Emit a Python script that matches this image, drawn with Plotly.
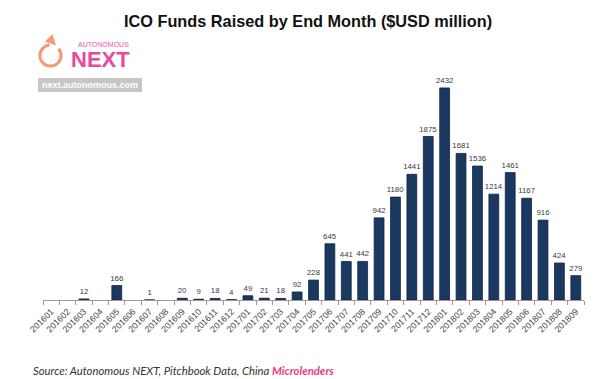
import math
import plotly.graph_objects as go

months = ["201601", "201602", "201603", "201604", "201605", "201606", "201607", "201608",
          "201609", "201610", "201611", "201612", "201701", "201702", "201703", "201704",
          "201705", "201706", "201707", "201708", "201709", "201710", "201711", "201712",
          "201801", "201802", "201803", "201804", "201805", "201806", "201807", "201808",
          "201809"]
funds = [None, None, 12, None, 166, None, 1, None,
         20, 9, 18, 4, 49, 21, 18, 92,
         228, 645, 441, 442, 942, 1180, 1441, 1875,
         2432, 1681, 1536, 1214, 1461, 1167, 916, 424,
         279]
labels = ["" if v is None else str(v) for v in funds]

W, H = 600, 379
L, R, T, B = 43, 16, 80, 79
PW, PH = W - L - R, H - T - B


def px(x):
    return (x - L) / PW


def py(y):
    return (H - B - y) / PH


fig = go.Figure(go.Bar(
    x=months, y=funds, text=labels, textposition="outside", cliponaxis=False,
    constraintext="none",
    textfont=dict(family="Arial, Liberation Sans", size=7.8, color="#3a3a3a"),
    marker=dict(color="#1b3860", line=dict(color="#0e2342", width=0.8)),
    width=0.6, hoverinfo="x+y",
))

shapes = []
# logo arc (decoration)
cx, cy, r = 50.5, 55.5, 10.5
pts = []
for i in range(0, 61):
    a = math.radians(95 + i * (305 / 60))
    pts.append((cx + r * math.cos(a), cy - r * math.sin(a)))
path = "M " + " L ".join(f"{px(x):.5f},{py(y):.5f}" for x, y in pts)
shapes.append(dict(type="path", xref="paper", yref="paper", path=path,
                   line=dict(color="#f39a78", width=3.2)))
tri = [(45.0, 41.5), (52.5, 34.0), (56.0, 45.5)]
shapes.append(dict(type="path", xref="paper", yref="paper",
                   path="M " + " L ".join(f"{px(x):.5f},{py(y):.5f}" for x, y in tri) + " Z",
                   fillcolor="#f39a78", line=dict(width=0)))
shapes.append(dict(type="rect", xref="paper", yref="paper",
                   x0=px(38), x1=px(142), y0=py(92), y1=py(78),
                   fillcolor="#c6c6c6", line=dict(width=0)))

annotations = [
    dict(text="<b>ICO Funds Raised by End Month ($USD million)</b>", x=px(307.5), y=py(21),
         xref="paper", yref="paper", showarrow=False, xanchor="center", yanchor="middle",
         font=dict(family="Arial, Liberation Sans", size=16.3, color="#111111")),
    dict(text="AUTONOMOUS", x=px(103.5), y=py(44.5), xref="paper", yref="paper",
         showarrow=False, xanchor="center", yanchor="middle",
         font=dict(family="Liberation Sans Narrow, Arial", size=7, color="#e8559f")),
    dict(text="<b>NEXT</b>", x=px(100.5), y=py(59), xref="paper", yref="paper",
         showarrow=False, xanchor="center", yanchor="middle",
         font=dict(family="Liberation Sans Narrow, Arial", size=22, color="#e64a9c")),
    dict(text="<b>next.autonomous.com</b>", x=px(90), y=py(85), xref="paper", yref="paper",
         showarrow=False, xanchor="center", yanchor="middle",
         font=dict(family="Arial, Liberation Sans", size=9, color="#ffffff")),
    dict(text="<i>Source: Autonomous NEXT, Pitchbook Data, China </i>"
              "<i><b><span style='color:#e8407f'>Microlenders</span></b></i>",
         x=px(31), y=py(370), xref="paper", yref="paper", showarrow=False,
         xanchor="left", yanchor="middle",
         font=dict(family="Lato, Open Sans", size=11.3, color="#333333")),
]

fig.update_layout(
    width=W, height=H, margin=dict(l=L, r=R, t=T, b=B),
    paper_bgcolor="white", plot_bgcolor="white", showlegend=False,
    shapes=shapes, annotations=annotations,
    xaxis=dict(type="category", tickangle=-45, ticks="outside", tickson="boundaries",
               ticklen=4, tickcolor="#9a9a9a", showline=True, linecolor="#9a9a9a",
               linewidth=1, showgrid=False, ticklabelstandoff=2,
               tickfont=dict(family="Arial, Liberation Sans", size=8.8, color="#444444")),
    yaxis=dict(range=[0, 2523], visible=False, showgrid=False, zeroline=False),
)

fig.write_html("out.html", config={"displayModeBar": False},
               post_script="document.body.style.margin='0';")
